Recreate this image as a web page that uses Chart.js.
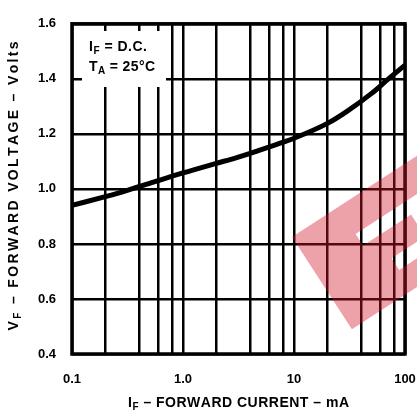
<!DOCTYPE html>
<html>
<head>
<meta charset="utf-8">
<script src="https://cdn.jsdelivr.net/npm/chart.js@4.4.1/dist/chart.umd.min.js"></script>
<style>
  html, body { margin: 0; padding: 0; background: #fff; }
  #wrap { width: 417px; height: 412px; }
</style>
</head>
<body>
<div id="wrap"><canvas id="myChart" width="417" height="412"></canvas></div>
<script>
// forward current (mA) vs forward voltage (V)
const currentMA = [0.1, 0.2, 0.3, 0.5, 1, 2, 3, 5, 7, 10, 20, 30, 50, 70, 100]
const forwardV  = [0.94, 0.972, 0.992, 1.02, 1.058, 1.093, 1.113, 1.142, 1.162, 1.184, 1.238, 1.282, 1.347, 1.398, 1.45]

// grid lines on the log axis and which of them get a label
const xGridValues = [0.1, 0.2, 0.4, 0.6, 0.8, 1, 2, 4, 6, 8, 10, 20, 40, 60, 80, 100]
const xTickLabels = { 0.1: '0.1', 1: '1.0', 10: '10', 100: '100' }
const yTickValues = [0.4, 0.6, 0.8, 1.0, 1.2, 1.4, 1.6]

const FONT = '"Liberation Sans", Arial, sans-serif'

// draws text made of parts [{t, sub}], spread with letter spacing to a given width
// x is the centre, or the left edge when left is true
const drawRich = (ctx, parts, x, cy, size, width, left) => {
    ctx.save()
    ctx.textBaseline = 'middle'
    ctx.textAlign = 'left'
    const subSize = Math.round(size * 0.7)
    let natural = 0, chars = 0
    parts.forEach(p => {
        ctx.font = `bold ${p.sub ? subSize : size}px ${FONT}`
        natural += ctx.measureText(p.t).width
        chars += p.t.length
    })
    const sp = width ? (width - natural) / (chars - 1) : 0
    if (!left) x = x - (natural + sp * (chars - 1)) / 2
    parts.forEach(p => {
        ctx.font = `bold ${p.sub ? subSize : size}px ${FONT}`
        for (const ch of p.t) {
            ctx.fillText(ch, x, cy + (p.sub ? size * 0.32 : 0))
            x += ctx.measureText(ch).width + sp
        }
    })
    ctx.restore()
}

const extras = {
    id: 'extras',
    beforeDatasetsDraw(chart) {
        const { ctx, chartArea: a } = chart
        ctx.save()
        // frame
        ctx.strokeStyle = '#000'
        ctx.lineWidth = 3.5
        ctx.strokeRect(a.left, a.top, a.right - a.left, a.bottom - a.top)
        // note box
        ctx.fillStyle = '#fff'
        ctx.fillRect(82, 31, 84, 56)
        ctx.restore()
        ctx.fillStyle = '#000'
        drawRich(ctx, [{ t: 'I' }, { t: 'F', sub: true }, { t: ' = D.C.' }], 89, 47, 14, 58, true)
        drawRich(ctx, [{ t: 'T' }, { t: 'A', sub: true }, { t: ' = 25°C' }], 89, 67, 14, 66, true)
    },
    afterDraw(chart) {
        const { ctx } = chart
        ctx.save()
        ctx.fillStyle = '#000'
        drawRich(ctx, [{ t: 'I' }, { t: 'F', sub: true }, { t: ' – FORWARD CURRENT – mA' }], 238, 403, 14, 220)
        ctx.translate(14, 188)
        ctx.rotate(-Math.PI / 2)
        drawRich(ctx, [{ t: 'V' }, { t: 'F', sub: true }, { t: ' – FORWARD VOLTAGE – Volts' }], 0, 0, 14, 285)
        ctx.restore()

        // faded watermark in the lower right
        ctx.save()
        ctx.translate(292, 237)
        ctx.rotate(-33 * Math.PI / 180)
        ctx.beginPath()
        ctx.rect(0, 0, 165, 110)
        ctx.rect(55, 32, 80, 14)
        ctx.rect(112, 46, 14, 26)
        ctx.rect(72, 72, 54, 14)
        ctx.fillStyle = 'rgba(210, 20, 40, 0.4)'
        ctx.fill('evenodd')
        ctx.restore()
    }
}

const ctx = document.querySelector('#myChart')
new Chart(ctx, {
    type: 'line',
    data: {
        datasets: [{
            data: currentMA.map((c, i) => ({ x: c, y: forwardV[i] })),
            borderColor: '#000',
            borderWidth: 5,
            pointRadius: 0,
            cubicInterpolationMode: 'monotone',
            fill: false
        }]
    },
    options: {
        responsive: false,
        animation: false,
        devicePixelRatio: 1,
        layout: { padding: { left: 0, top: 16, right: 12, bottom: 0 } },
        plugins: { legend: { display: false }, tooltip: { enabled: false } },
        scales: {
            x: {
                type: 'logarithmic',
                min: 0.1,
                max: 100,
                afterBuildTicks: scale => { scale.ticks = xGridValues.map(v => ({ value: v })) },
                afterFit: scale => {
                    scale.height = 58
                    scale.paddingLeft = 0
                    scale.paddingRight = 0
                },
                grid: { color: '#000', lineWidth: 2.5, drawTicks: false },
                border: { display: false },
                ticks: {
                    autoSkip: false,
                    maxRotation: 0,
                    padding: 18,
                    color: '#000',
                    font: { family: FONT, size: 13, weight: 'bold' },
                    callback: v => xTickLabels[v] ?? ''
                }
            },
            y: {
                min: 0.4,
                max: 1.6,
                afterBuildTicks: scale => { scale.ticks = yTickValues.map(v => ({ value: v })) },
                afterFit: scale => { scale.width = 72 },
                grid: { color: '#000', lineWidth: 2.5, drawTicks: false },
                border: { display: false },
                ticks: {
                    padding: 16,
                    color: '#000',
                    font: { family: FONT, size: 13, weight: 'bold' },
                    callback: v => v.toFixed(1)
                }
            }
        }
    },
    plugins: [extras]
})
</script>
</body>
</html>
